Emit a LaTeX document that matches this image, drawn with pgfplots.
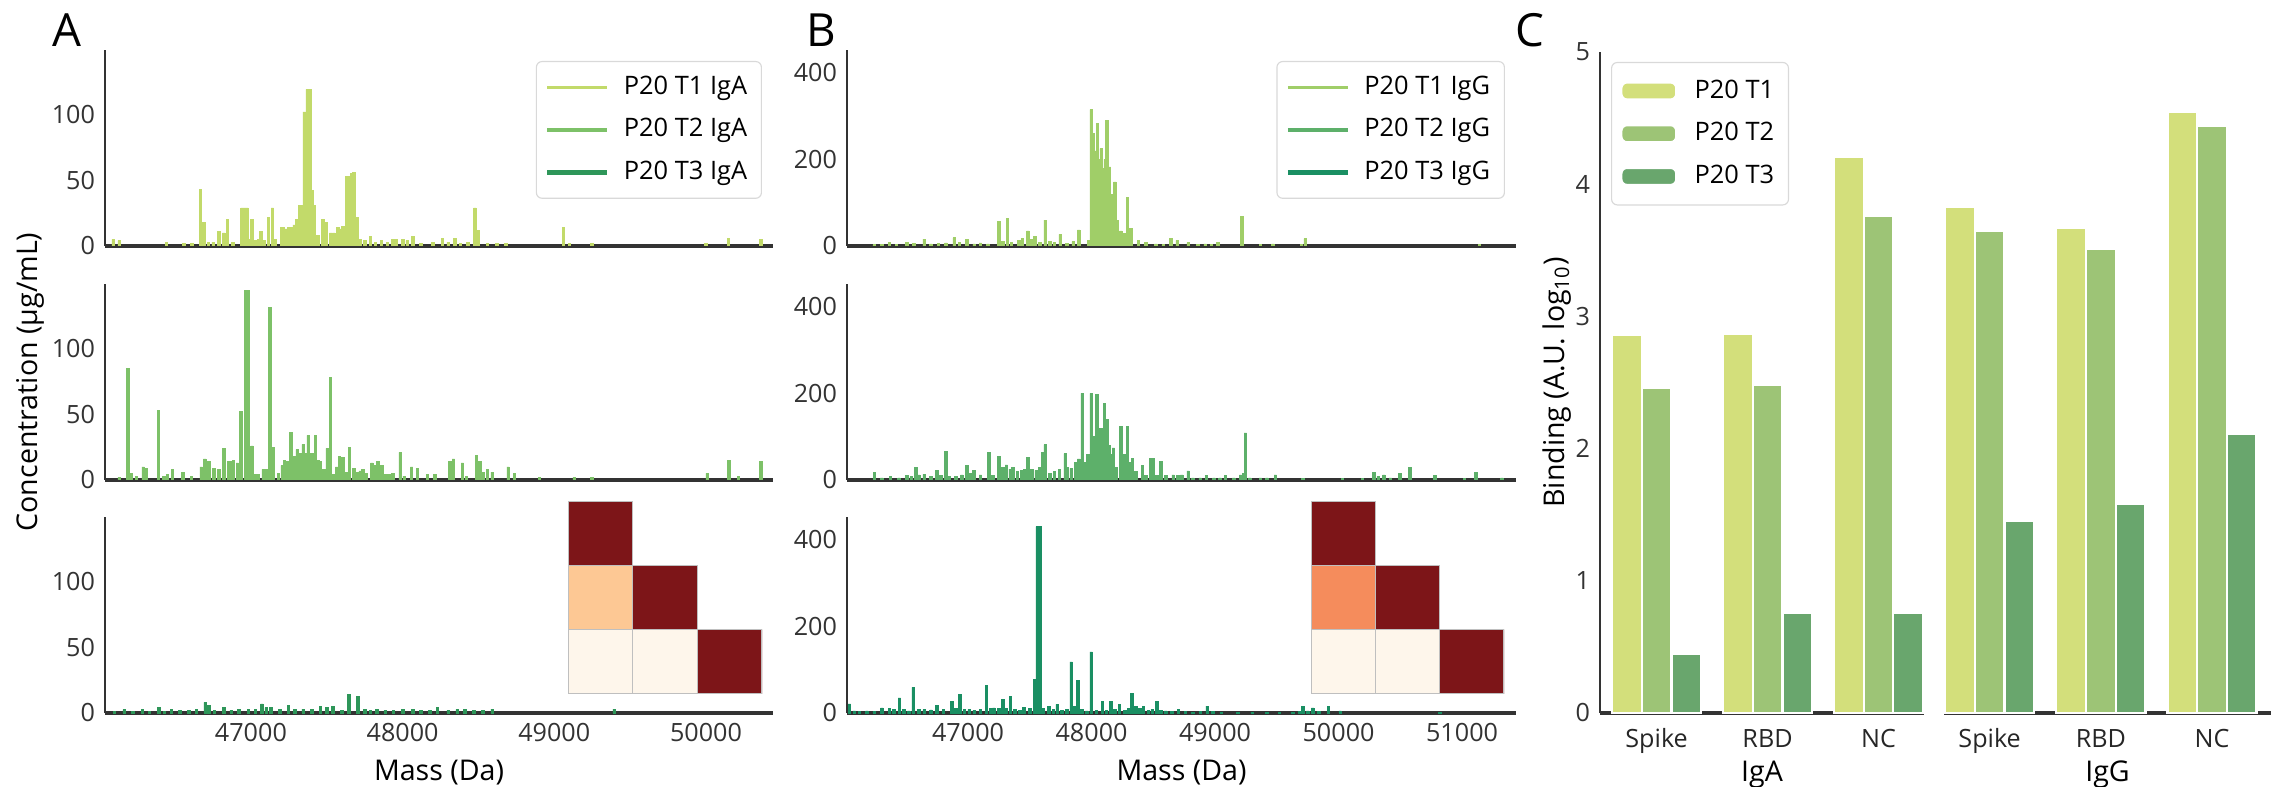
\documentclass[border=0pt]{standalone}
\usepackage{fontspec}
\setmainfont{Open Sans}
\usepackage{pgfplots}
\pgfplotsset{compat=1.18}

\definecolor{axisgray}{HTML}{333333}
\definecolor{aone}{HTML}{C2DA6A}
\definecolor{atwo}{HTML}{7DC168}
\definecolor{athree}{HTML}{2E9659}
\definecolor{bone}{HTML}{A0CE68}
\definecolor{btwo}{HTML}{5DB06A}
\definecolor{bthree}{HTML}{1A8F63}
\definecolor{cone}{HTML}{D3DF7B}
\definecolor{ctwo}{HTML}{9DC476}
\definecolor{cthree}{HTML}{69A66D}
\definecolor{hmdark}{HTML}{7D1518}
\definecolor{hmpeach}{HTML}{FDC894}
\definecolor{hmorange}{HTML}{F58C5C}
\definecolor{hmlight}{HTML}{FEF6EB}

\pgfplotsset{
  base/.style={
    scale only axis, anchor=south west,
    axis x line*=bottom, axis y line*=left,
    x axis line style={-, draw=axisgray, line width=1.3pt},
    y axis line style={-, draw=axisgray, line width=0.9pt},
    major tick length=0pt,
    scaled x ticks=false, scaled y ticks=false,
    tick label style={font=\fontsize{8.8}{10}\selectfont, text=axisgray},
    label style={font=\fontsize{10.3}{12}\selectfont, text=black!85},
    /pgf/number format/assume math mode=true,
    /pgf/number format/1000 sep={},
    ymin=0,
  },
  spec/.style={base,
    xticklabel style={anchor=base, yshift=-10.1pt},
    every axis x label/.style={at={(axis description cs:0.5,0)}, anchor=base, yshift=-23.5pt}},
  specA/.style={spec, width=233.8pt, height=68.6pt, xmin=46038, xmax=50442,
    ymax=149, ytick={0,50,100}, xtick={47000,48000,49000,50000}},
  specB/.style={spec, width=234.15pt, height=68.6pt, xmin=46020, xmax=51437,
    ymax=453, ytick={0,200,400}, xtick={47000,48000,49000,50000,51000}},
  linelegend/.style={
    legend image code/.code={\draw[##1] (0pt,0pt) -- (21pt,0pt);},
    legend cell align=left,
    legend style={at={(0.9835,0.944)}, anchor=north east, draw=black!15,
      rounded corners=2pt, font=\fontsize{8.9}{10.5}\selectfont,
      row sep=3pt, column sep=3pt, inner xsep=3pt, inner ysep=3pt}},
  hm/.style={scale only axis, anchor=south west, width=67.9pt, height=67.55pt,
    xmin=0, xmax=3, ymin=0, ymax=3, hide axis},
  cell/.style={draw=black!25, line width=0.4pt},
  cax/.style={base, height=231.35pt, ymax=5, ybar=0pt, bar width=0.267,
    xtick={0,1,2}, xticklabels={Spike,RBD,NC},
    xticklabel style={text=black!85, anchor=base, yshift=-12.25pt},
    every axis x label/.style={at={(axis description cs:0.5,0)}, anchor=base, yshift=-23.8pt}},
}

\begin{document}
\begin{tikzpicture}
\useasboundingbox (0pt,0pt) rectangle (796.95pt,275.45pt);

% ---------------- panel A ----------------
\begin{axis}[specA, linelegend, at={(36.75pt,189.35pt)}, xticklabels={}]
\addplot[ybar, bar width=16, fill=aone, draw=aone, line width=0.2pt, forget plot] table {
46092 5
46131 4
46443 3
46557 2
46610 2
46666 43
46689 18
46720 3
46750 3
46787 11
46820 10
46846 20
46880 3
46941 29
46958 29
46974 29
46990 5
47006 20
47030 4
47050 5
47066 11
47090 4
47115 22
47141 29
47160 5
47200 14
47215 14
47231 13
47247 14
47262 14
47285 16
47302 20
47321 31
47336 31
47351 102
47370 119
47387 119
47403 42
47416 31
47440 8
47475 20
47498 18
47525 10
47545 10
47574 14
47590 13
47607 15
47623 14
47633 53
47650 53
47665 55
47679 56
47698 22
47720 5
47750 4
47787 7
47820 3
47860 4
47900 3
47935 5
47960 5
48000 5
48030 4
48066 7
48120 2
48200 3
48262 6
48300 3
48344 6
48380 2
48430 3
48476 29
48499 12
48560 2
48620 2
48680 2
49059 14
49100 2
49246 2
50000 2
50148 6
50361 5
};
\addlegendimage{aone, line width=1pt}\addlegendentry{P20 T1 IgA}
\addlegendimage{atwo, line width=1.6pt}\addlegendentry{P20 T2 IgA}
\addlegendimage{athree, line width=1.6pt}\addlegendentry{P20 T3 IgA}
\end{axis}

\begin{axis}[specA, at={(36.75pt,107.45pt)}, xticklabels={},
  ylabel={Concentration (µg/mL)},
  every axis y label/.style={at={(axis description cs:-0.112,0.5)}, rotate=90, anchor=center}]
\addplot[ybar, bar width=16, fill=atwo, draw=atwo, line width=0.2pt] table {
46131 2
46187 85
46213 5
46246 3
46289 10
46312 9
46390 53
46426 3
46450 4
46482 8
46551 6
46607 3
46672 10
46695 16
46721 14
46754 9
46787 8
46820 24
46852 14
46870 14
46885 15
46910 13
46934 52
46967 144
46984 144
47007 26
47030 4
47049 4
47080 8
47098 8
47125 131
47148 25
47180 5
47205 11
47220 15
47240 14
47262 36
47285 18
47305 23
47325 20
47344 27
47360 20
47377 34
47400 20
47426 34
47445 15
47459 14
47480 8
47502 24
47525 78
47545 4
47565 10
47584 18
47607 17
47630 6
47649 25
47679 9
47700 6
47720 7
47738 8
47760 5
47797 13
47820 11
47836 14
47862 11
47890 4
47910 4
47935 5
47984 21
48010 3
48059 10
48098 9
48164 4
48213 4
48312 14
48335 16
48394 13
48420 3
48486 19
48509 14
48530 6
48558 8
48590 6
48695 10
48738 5
48902 2
49131 2
49246 2
50007 5
50151 15
50213 3
50361 14
};
\end{axis}

\begin{axis}[specA, at={(36.75pt,25.9pt)}, xlabel={Mass (Da)}]
\addplot[ybar, bar width=16, fill=athree, draw=athree, line width=0.2pt] table {
46100 1
46164 2.5
46220 1.5
46285 2.5
46330 1.5
46393 4.5
46430 1.5
46475 2.5
46530 2
46590 2
46640 2.5
46698 8
46721 6
46760 2
46820 4.5
46870 2
46920 2.5
46984 2.5
47030 3
47072 7
47100 4
47131 4.5
47190 3
47246 6
47290 2.5
47344 3
47400 2.5
47459 5
47500 4
47541 5
47600 2
47646 14
47705 12.5
47750 2.5
47787 2
47830 2.5
47885 2
47940 2
48000 3
48066 3
48120 2
48180 2
48230 4.5
48300 2
48360 2.5
48410 3
48470 2
48530 2
48590 3
49394 3
};
\end{axis}

\begin{axis}[hm, at={(198.8pt,32.55pt)}]
\addplot[fill=hmdark, cell] coordinates {(0,2) (1,2) (1,3) (0,3) (0,2)};
\addplot[fill=hmpeach, cell] coordinates {(0,1) (1,1) (1,2) (0,2) (0,1)};
\addplot[fill=hmdark, cell] coordinates {(1,1) (2,1) (2,2) (1,2) (1,1)};
\addplot[fill=hmlight, cell] coordinates {(0,0) (1,0) (1,1) (0,1) (0,0)};
\addplot[fill=hmlight, cell] coordinates {(1,0) (2,0) (2,1) (1,1) (1,0)};
\addplot[fill=hmdark, cell] coordinates {(2,0) (3,0) (3,1) (2,1) (2,0)};
\end{axis}

% ---------------- panel B ----------------
\begin{axis}[specB, linelegend, at={(296.45pt,189.35pt)}, xticklabels={}]
\addplot[ybar, bar width=20, fill=bone, draw=bone, line width=0.2pt, forget plot] table {
46240 3
46300 4
46363 8
46420 4
46504 8
46560 6
46645 16
46700 5
46760 6
46820 7
46887 19
46930 8
46988 16
47050 5
47100 7
47160 5
47250 57
47280 10
47319 64
47350 8
47411 13
47440 17
47484 35
47510 15
47540 23
47580 8
47625 60
47660 10
47700 8
47746 27
47800 6
47850 10
47895 37
47976 13
47996 315
48016 260
48036 220
48048 283
48062 200
48077 225
48095 180
48110 200
48125 291
48145 183
48165 120
48189 148
48210 60
48238 35
48260 30
48290 113
48318 41
48379 13
48440 8
48520 5
48580 3
48641 17
48693 13
48782 8
48860 3
48920 5
48970 3
49024 8
49218 68
49367 4
49468 5
49700 4
49730 17
51141 4
};
\addlegendimage{bone, line width=1pt}\addlegendentry{P20 T1 IgG}
\addlegendimage{btwo, line width=1.6pt}\addlegendentry{P20 T2 IgG}
\addlegendimage{bthree, line width=1.6pt}\addlegendentry{P20 T3 IgG}
\end{axis}

\begin{axis}[specB, at={(296.45pt,107.45pt)}, xticklabels={}]
\addplot[ybar, bar width=20, fill=btwo, draw=btwo, line width=0.2pt] table {
46242 18
46300 5
46371 8
46440 5
46504 10
46540 8
46577 29
46600 12
46645 13
46700 8
46746 22
46780 10
46819 66
46850 8
46900 9
46950 12
46988 33
47020 15
47048 22
47100 12
47169 64
47200 10
47250 54
47280 30
47310 35
47340 25
47363 30
47400 20
47431 22
47460 25
47484 53
47515 25
47552 22
47580 30
47601 64
47625 82
47660 15
47700 20
47740 25
47786 61
47800 30
47835 27
47870 40
47895 49
47923 200
47945 40
47970 60
47996 200
48020 100
48044 198
48060 120
48077 120
48090 100
48105 177
48125 140
48140 80
48160 60
48177 74
48200 30
48238 124
48260 60
48290 123
48310 40
48331 50
48360 20
48411 33
48440 10
48480 50
48500 50
48530 10
48560 43
48600 10
48661 12
48700 10
48730 12
48782 21
48820 5
48880 5
48931 10
48990 5
49040 5
49085 10
49150 5
49206 12
49230 15
49246 109
49280 5
49367 5
49420 5
49488 12
49710 4
50032 4
50193 4
50286 17
50320 8
50367 12
50420 5
50496 16
50576 30
50778 10
51020 4
51113 18
51323 5
};
\end{axis}

\begin{axis}[specB, at={(296.45pt,25.9pt)}, xlabel={Mass (Da)}]
\addplot[ybar, bar width=20, fill=bthree, draw=bthree, line width=0.2pt] table {
46040 21
46080 5
46121 4
46180 5
46240 3
46302 12
46363 10
46400 8
46444 35
46480 8
46520 5
46556 59
46600 8
46645 8
46700 7
46746 18
46800 8
46867 27
46900 10
46935 43
46970 8
47008 8
47050 6
47100 9
47149 63
47180 10
47210 12
47250 10
47282 31
47310 10
47343 39
47380 8
47420 6
47452 13
47500 10
47540 78
47560 431
47585 431
47610 10
47653 16
47690 8
47722 20
47760 6
47800 8
47835 118
47860 15
47887 75
47920 8
47960 5
47996 141
48040 6
48089 27
48120 6
48157 27
48190 8
48226 20
48270 6
48300 10
48327 45
48360 15
48390 10
48419 16
48460 6
48490 8
48528 27
48560 6
48600 5
48650 3
48702 8
48760 3
48820 2
48880 3
48935 16
48980 3
49050 2
49185 2
49300 2
49420 2
49520 2
49629 2
49680 4
49710 16
49750 5
49790 12
49840 3
49919 16
50012 5
50818 2
};
\end{axis}

\begin{axis}[hm, width=67.55pt, at={(458.85pt,32.55pt)}]
\addplot[fill=hmdark, cell] coordinates {(0,2) (1,2) (1,3) (0,3) (0,2)};
\addplot[fill=hmorange, cell] coordinates {(0,1) (1,1) (1,2) (0,2) (0,1)};
\addplot[fill=hmdark, cell] coordinates {(1,1) (2,1) (2,2) (1,2) (1,1)};
\addplot[fill=hmlight, cell] coordinates {(0,0) (1,0) (1,1) (0,1) (0,0)};
\addplot[fill=hmlight, cell] coordinates {(1,0) (2,0) (2,1) (1,1) (1,0)};
\addplot[fill=hmdark, cell] coordinates {(2,0) (3,0) (3,1) (2,1) (2,0)};
\end{axis}

% ---------------- panel C ----------------
\begin{axis}[cax, at={(560pt,25.9pt)}, width=113.4pt, xmin=-0.51, xmax=2.41,
  ytick={0,1,2,3,4,5}, xlabel={IgA},
  ylabel={Binding (A.U. log\textsubscript{10})},
  every axis y label/.style={at={(axis description cs:-0.133,0.5)}, rotate=90, anchor=center},
  legend image code/.code={\fill[#1] (0pt,-3pt) rectangle (19.25pt,3pt);},
  legend cell align=left,
  legend style={at={(0.034,0.985)}, anchor=north west, draw=black!15,
    rounded corners=2pt, font=\fontsize{8.9}{10.5}\selectfont,
    row sep=3pt, column sep=4pt, inner xsep=3pt, inner ysep=4pt}]
\addplot[fill=cone, draw=white, line width=0.8pt] coordinates {(0,2.86) (1,2.87) (2,4.21)};
\addplot[fill=ctwo, draw=white, line width=0.8pt] coordinates {(0,2.46) (1,2.48) (2,3.76)};
\addplot[fill=cthree, draw=white, line width=0.8pt] coordinates {(0,0.45) (1,0.76) (2,0.76)};
\legend{P20 T1, P20 T2, P20 T3}
\end{axis}

\begin{axis}[cax, at={(680.4pt,25.9pt)}, width=114.45pt, xmin=-0.41, xmax=2.53,
  axis y line=none, ytick=\empty, xlabel={IgG}]
\addplot[fill=cone, draw=white, line width=0.8pt] coordinates {(0,3.83) (1,3.67) (2,4.55)};
\addplot[fill=ctwo, draw=white, line width=0.8pt] coordinates {(0,3.65) (1,3.51) (2,4.44)};
\addplot[fill=cthree, draw=white, line width=0.8pt] coordinates {(0,1.45) (1,1.58) (2,2.11)};
\end{axis}

% panel letters
\node[font=\fontsize{16}{18}\selectfont] at (23.45pt,264.95pt) {A};
\node[font=\fontsize{16}{18}\selectfont] at (287.35pt,264.95pt) {B};
\node[font=\fontsize{16}{18}\selectfont] at (535.5pt,264.95pt) {C};
\end{tikzpicture}
\end{document}
